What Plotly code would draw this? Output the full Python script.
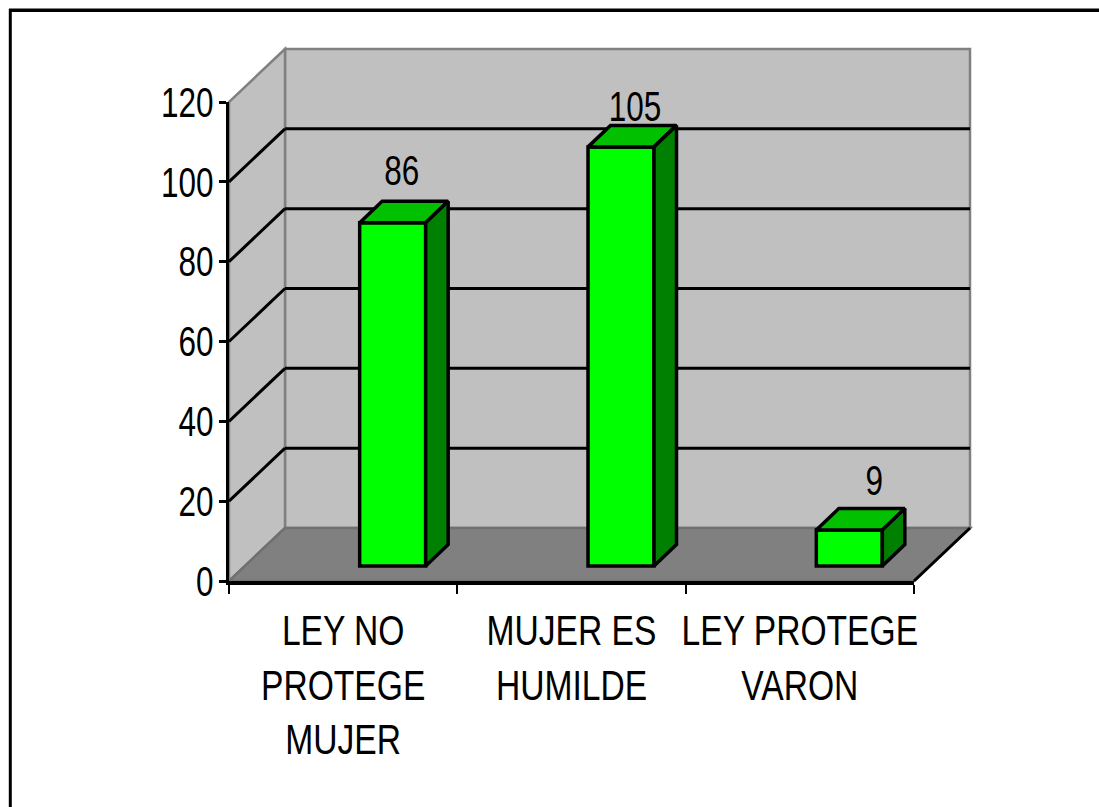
import plotly.graph_objects as go

categories = ["LEY NO<br>PROTEGE<br>MUJER", "MUJER ES<br>HUMILDE", "LEY PROTEGE<br>VARON"]
values = [86, 105, 9]
y_ticks = [0, 20, 40, 60, 80, 100, 120]
label_texts = ["86", "105", "9"]

W, H = 1099, 807
X0, X1, Y0, Y1 = 229, 914, 581, 102      # front plane of the chart, in page pixels
UX = (X1 - X0) / 3                        # pixels per category
UY = (Y0 - Y1) / 120                      # pixels per value unit
WALL_DX = 56 / UX
WALL_DY = 53 / UY
BAR_SHIFT = 49.5 / UX
BAR_BASE = 15 / UY
BAR_W = 66 / UX
BAR_DX = 22.5 / UX
BAR_DY = 21.5 / UY
LABEL_DX = [9 / UX, 14 / UX, 25 / UX]
LABEL_DY = [48 / UY, 36 / UY, 46 / UY]

FONT = "Liberation Sans, Arial, sans-serif"
centers = [i + 0.5 for i in range(len(categories))]
x_full = [-X0 / UX, (W - X0) / UX]
y_full = [-(H - Y0) / UY, Y0 / UY]


def poly(pts):
    return "M " + " L ".join(f"{x},{y}" for x, y in pts) + " Z"


def path_shape(pts, fill, line="#808080", width=2.5):
    return dict(type="path", xref="x", yref="y", layer="below", path=poly(pts),
                fillcolor=fill, line=dict(color=line, width=width))


def seg(x0, y0, x1, y1, color, width):
    return dict(type="line", xref="x", yref="y", layer="below", x0=x0, y0=y0, x1=x1, y1=y1,
                line=dict(color=color, width=width))


ymax = y_ticks[-1]
shapes = [
    path_shape([(WALL_DX, WALL_DY), (3 + WALL_DX, WALL_DY), (3 + WALL_DX, ymax + WALL_DY), (WALL_DX, ymax + WALL_DY)], "#c0c0c0"),
    path_shape([(0, 0), (WALL_DX, WALL_DY), (WALL_DX, ymax + WALL_DY), (0, ymax)], "#c0c0c0"),
    path_shape([(0, 0), (3, 0), (3 + WALL_DX, WALL_DY), (WALL_DX, WALL_DY)], "#808080", "#707070"),
]
for t in y_ticks[1:-1]:
    shapes.append(seg(0, t, WALL_DX, t + WALL_DY, "#000000", 3))
    shapes.append(seg(WALL_DX, t + WALL_DY, 3 + WALL_DX, t + WALL_DY, "#000000", 3))
shapes.append(seg(3, 0, 3 + WALL_DX, WALL_DY, "#000000", 3))
# page frame: top and left rules only
shapes.append(dict(type="line", xref="paper", yref="paper", layer="below", x0=9 / W, x1=1, y0=1 - 8.5 / H, y1=1 - 8.5 / H,
                   line=dict(color="#808080", width=1)))
shapes.append(dict(type="line", xref="paper", yref="paper", layer="below", x0=9 / W, x1=1, y0=1 - 10.5 / H, y1=1 - 10.5 / H,
                   line=dict(color="#000000", width=3)))
shapes.append(dict(type="line", xref="paper", yref="paper", layer="below", x0=10.3 / W, x1=10.3 / W, y0=0, y1=1 - 9 / H,
                   line=dict(color="#000000", width=3)))

fig = go.Figure()

fig.add_trace(go.Bar(x=[c + BAR_SHIFT for c in centers], y=values, base=BAR_BASE, width=BAR_W,
                     marker=dict(color="#00ff00", line=dict(color="#000000", width=3.5)),
                     xaxis="x", yaxis="y", showlegend=False, hoverinfo="skip"))

for c, v in zip(centers, values):
    l = c + BAR_SHIFT - BAR_W / 2
    r = c + BAR_SHIFT + BAR_W / 2
    b = BAR_BASE
    t = BAR_BASE + v
    fig.add_trace(go.Scatter(x=[l, r, r + BAR_DX, l + BAR_DX, l], y=[t, t, t + BAR_DY, t + BAR_DY, t],
                             mode="lines", fill="toself", fillcolor="#00c000",
                             line=dict(color="#000000", width=3.5), xaxis="x", yaxis="y",
                             showlegend=False, hoverinfo="skip"))
    fig.add_trace(go.Scatter(x=[r, r + BAR_DX, r + BAR_DX, r, r], y=[b, b + BAR_DY, t + BAR_DY, t, b],
                             mode="lines", fill="toself", fillcolor="#008000",
                             line=dict(color="#000000", width=3.5), xaxis="x", yaxis="y",
                             showlegend=False, hoverinfo="skip"))

fig.add_trace(go.Scatter(x=[c + BAR_SHIFT + d for c, d in zip(centers, LABEL_DX)],
                         y=[BAR_BASE + v + d for v, d in zip(values, LABEL_DY)],
                         mode="text", text=label_texts, textposition="middle center",
                         textfont=dict(family=FONT, size=42, color="#000000"),
                         xaxis="x", yaxis="y", showlegend=False, hoverinfo="skip"))

# invisible trace so the tick-bearing axes are drawn on top
fig.add_trace(go.Scatter(x=centers, y=values, mode="markers", marker=dict(opacity=0),
                         xaxis="x2", yaxis="y2", showlegend=False, hoverinfo="skip"))

fig.update_layout(
    template="none",
    width=W, height=H, autosize=False,
    margin=dict(l=0, r=0, t=0, b=0, pad=0),
    paper_bgcolor="#ffffff", plot_bgcolor="rgba(0,0,0,0)",
    shapes=shapes,
    font=dict(family=FONT, size=42, color="#000000"),
    xaxis=dict(domain=[0, 1], range=x_full, visible=False, fixedrange=True, automargin=False),
    yaxis=dict(domain=[0, 1], range=y_full, visible=False, fixedrange=True, automargin=False),
    xaxis2=dict(domain=[X0 / W, X1 / W], range=[0, 3], anchor="y2", tickmode="array",
                tickvals=centers, ticktext=categories, ticks="", ticklen=0, tickangle=0,
                showline=True, linecolor="#000000", linewidth=3.5, showgrid=False, zeroline=False,
                automargin=False, ticklabelstandoff=10,
                tickfont=dict(family=FONT, size=42, color="#000000"),
                minor=dict(tickmode="array", tickvals=[0, 1, 2, 3], ticks="outside", ticklen=9,
                           tickwidth=2, tickcolor="#000000", showgrid=False)),
    yaxis2=dict(domain=[(H - Y0) / H, (H - Y1) / H], range=[0, 120], anchor="x2", tickmode="array",
                tickvals=y_ticks, ticks="outside", ticklen=7, tickwidth=3, tickcolor="#000000",
                showline=True, linecolor="#000000", linewidth=3, showgrid=False, zeroline=False,
                automargin=False, ticklabelstandoff=-3,
                tickfont=dict(family=FONT, size=42, color="#000000")),
)

# The reference lettering is a horizontally condensed sans; no narrow face is installed,
# so the real SVG text is squeezed in x around its anchor.
squeeze = """
document.body.style.margin='0';document.body.style.overflow='hidden';
function sq(sel,s){document.querySelectorAll(sel).forEach(function(t){
  var b=t.getBBox();var a=t.getAttribute('text-anchor')||t.style.textAnchor||'middle';
  var c=a==='end'?b.x+b.width:(a==='start'?b.x:b.x+b.width/2);
  var o=t.getAttribute('transform')||'';
  t.setAttribute('transform',o+' translate('+c+',0) scale('+s+',1) translate('+(-c)+',0)');
});}
sq('.x2tick text',0.80);sq('.y2tick text',0.75);sq('.textpoint text',0.75);
"""
fig.write_html("out.html", config=dict(displayModeBar=False), post_script=squeeze)
